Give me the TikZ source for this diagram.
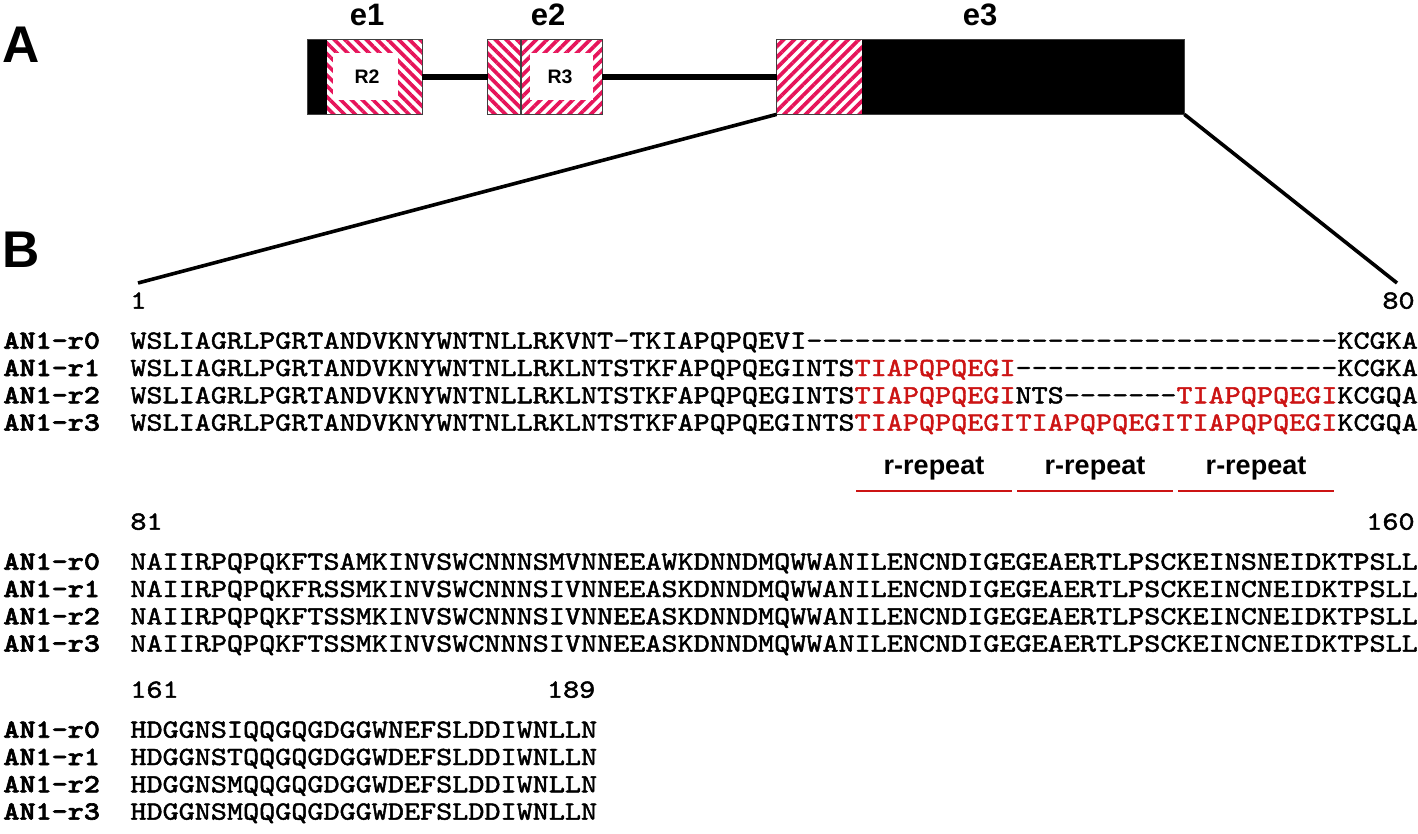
\documentclass[tikz,border=0pt]{standalone}
\usepackage{fontspec}
\setmainfont{Liberation Sans}
\newfontfamily\seqfont{lmmono10-regular.otf}[FakeStretch=1.17,FakeBold=1.8]
\newfontfamily\seqboldfont{lmmonolt10-bold.otf}[FakeStretch=1.17,FakeBold=2.4]
\usepackage{tikz}
\usetikzlibrary{positioning}
\usetikzlibrary{patterns.meta}
\usetikzlibrary{fit}
\definecolor{seqred}{RGB}{204,20,20}
\definecolor{hatchpink}{RGB}{230,20,90}
\tikzstyle{panel}=[font=\fontsize{25.8}{30}\selectfont\bfseries,inner sep=0pt]
\tikzstyle{exonlabel}=[font=\fontsize{15.5}{18}\selectfont\bfseries,inner sep=0pt]
\tikzstyle{boxlabel}=[font=\fontsize{9.75}{12}\selectfont\bfseries,inner sep=0pt]
\tikzstyle{exon}=[inner sep=0pt]
\tikzstyle{exonborder}=[draw=black!75,line width=0.75pt]
\tikzstyle{hatchup}=[pattern={Lines[angle=45,distance=3.8pt,line width=1.8pt]},pattern color=hatchpink]
\tikzstyle{hatchdown}=[pattern={Lines[angle=-45,distance=3.8pt,line width=1.8pt]},pattern color=hatchpink]
\tikzstyle{intron} = [draw,line width=3pt]
\tikzstyle{zoomline} = [draw,line width=1.8pt]
\tikzstyle{seqname}=[font=\seqboldfont\fontsize{13.1}{16}\selectfont,anchor=base west,inner sep=0pt]
\tikzstyle{seqrow}=[font=\seqfont\fontsize{13.1}{16}\selectfont,anchor=base west,inner sep=0pt]
\tikzstyle{posnum}=[font=\seqfont\fontsize{13.1}{16}\selectfont,inner sep=0pt]
\tikzstyle{replabel}=[font=\fontsize{13.5}{15}\selectfont\bfseries,anchor=base,inner sep=0pt]
\tikzstyle{repline} = [draw=seqred,line width=1pt]
\newcommand{\rd}[1]{\textcolor{seqred}{#1}}

\begin{document}
\begin{tikzpicture}[x=0.5pt,y=-0.5pt]

  \useasboundingbox (0,0) rectangle (1418,834);

  \def\sx{130};
  \def\rs{27.3};
  \def\ya{348.7};
  \def\yb{569.7};
  \def\yc{737.7};

  % panel letters
  \node[panel] (labA) at (21,45) {A};
  \node[panel] (labB) at (21,250) {B};

  % exons
  \node[exon, fit={(308,40) (422,114)}] (e1) {};
  \node[exon, fit={(488,40) (602,114)}] (e2) {};
  \node[exon, fit={(777,40) (1184,114)}] (e3) {};

  \fill[black] (308,40) rectangle (327,114);
  \fill[hatchdown] (327,40) rectangle (422,114);
  \fill[white] (333,53) rectangle (398,100);

  \fill[hatchdown] (488,40) rectangle (521,114);
  \fill[hatchup] (521,40) rectangle (602,114);
  \fill[white] (530,53) rectangle (593,100);

  \fill[hatchup] (777,40) rectangle (862,114);
  \fill[black] (862,40) rectangle (1184,114);

  \foreach \name in {e1,e2,e3}
         \path[exonborder] (\name.south west) rectangle (\name.north east);
  \path[exonborder] (521,40) -- (521,114);

  \node[boxlabel] (R2) at (367,77) {R2};
  \node[boxlabel] (R3) at (560,77) {R3};

  \foreach \x/\name in {367/e1, 548/e2, 980/e3}
         \node[exonlabel] (\name lab) at (\x,15) {\name};

  % introns
  \path[intron] (e1) -- (e2);
  \path[intron] (e2) -- (e3);

  % zoom into e3
  \coordinate (zl) at (138,283);
  \coordinate (zr) at (1397,283);
  \path[zoomline] (e3.south west) -- (zl);
  \path[zoomline] (e3.south east) -- (zr);

  % positions
  \node[posnum, anchor=base west] (p1) at (\sx,308.7) {1};
  \node[posnum, anchor=base east] (p80) at (1415,308.7) {80};
  \node[posnum, anchor=base west] (p81) at (\sx,529.7) {81};
  \node[posnum, anchor=base east] (p160) at (1415,529.7) {160};
  \node[posnum, anchor=base west] (p161) at (\sx,697.7) {161};
  \node[posnum, anchor=base east] (p189) at (595.7,697.7) {189};

  % names
  \foreach \k/\name in {0/r0, 1/r1, 2/r2, 3/r3}
  {
     \node[seqname] (na\name) at (3,\ya+\k*\rs) {AN1-\name};
     \node[seqname] (nb\name) at (3,\yb+\k*\rs) {AN1-\name};
     \node[seqname] (nc\name) at (3,\yc+\k*\rs) {AN1-\name};
  }

  % block 1 (1-80)
  \foreach \k/\name/\seq in {0/r0/{WSLIAGRLPGRTANDVKNYWNTNLLRKVNT-TKIAPQPQEVI---------------------------------KCGKA},
                             1/r1/{WSLIAGRLPGRTANDVKNYWNTNLLRKLNTSTKFAPQPQEGINTS\rd{TIAPQPQEGI}--------------------KCGKA},
                             2/r2/{WSLIAGRLPGRTANDVKNYWNTNLLRKLNTSTKFAPQPQEGINTS\rd{TIAPQPQEGI}NTS-------\rd{TIAPQPQEGI}KCGQA},
                             3/r3/{WSLIAGRLPGRTANDVKNYWNTNLLRKLNTSTKFAPQPQEGINTS\rd{TIAPQPQEGITIAPQPQEGITIAPQPQEGI}KCGQA}}
          \node[seqrow] (sa\name) at (\sx,\ya+\k*\rs) {\seq};

  % r-repeats
  \foreach \a/\b/\k in {856/1012/1, 1017/1173/2, 1178/1334/3}
  {
     \draw[repline] (\a,491) -- (\b,491);
     \node[replabel] (rep\k) at ({(\a+\b)/2},474) {r-repeat};
  }

  % block 2 (81-160)
  \foreach \k/\name/\seq in {0/r0/{NAIIRPQPQKFTSAMKINVSWCNNNSMVNNEEAWKDNNDMQWWANILENCNDIGEGEAERTLPSCKEINSNEIDKTPSLL},
                             1/r1/{NAIIRPQPQKFRSSMKINVSWCNNNSIVNNEEASKDNNDMQWWANILENCNDIGEGEAERTLPSCKEINCNEIDKTPSLL},
                             2/r2/{NAIIRPQPQKFTSSMKINVSWCNNNSIVNNEEASKDNNDMQWWANILENCNDIGEGEAERTLPSCKEINCNEIDKTPSLL},
                             3/r3/{NAIIRPQPQKFTSSMKINVSWCNNNSIVNNEEASKDNNDMQWWANILENCNDIGEGEAERTLPSCKEINCNEIDKTPSLL}}
          \node[seqrow] (sb\name) at (\sx,\yb+\k*\rs) {\seq};

  % block 3 (161-189)
  \foreach \k/\name/\seq in {0/r0/{HDGGNSIQQGQGDGGWNEFSLDDIWNLLN},
                             1/r1/{HDGGNSTQQGQGDGGWDEFSLDDIWNLLN},
                             2/r2/{HDGGNSMQQGQGDGGWDEFSLDDIWNLLN},
                             3/r3/{HDGGNSMQQGQGDGGWDEFSLDDIWNLLN}}
          \node[seqrow] (sc\name) at (\sx,\yc+\k*\rs) {\seq};

\end{tikzpicture}
\end{document}
